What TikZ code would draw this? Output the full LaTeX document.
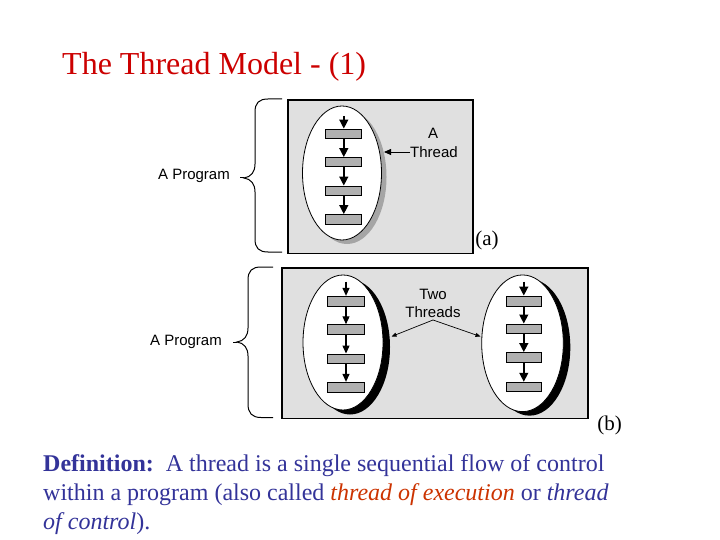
\documentclass[tikz,border=0pt]{standalone}
\usepackage{fontspec}
\setmainfont{Liberation Serif}
\newfontfamily\arialf{Liberation Sans}
\usetikzlibrary{arrows.meta,shapes.geometric}
\definecolor{titlered}{RGB}{204,0,0}
\definecolor{defblue}{RGB}{51,51,153}
\definecolor{defred}{RGB}{204,51,0}
\definecolor{boxgray}{RGB}{224,224,224}
\definecolor{rectgray}{RGB}{176,176,176}
\definecolor{shadowgray}{RGB}{165,165,165}
\begin{document}
\begin{tikzpicture}[x=1pt,y=-1pt,
  panel/.style={draw=black, line width=1.6pt, fill=boxgray, inner sep=0, anchor=north west},
  thr/.style={ellipse, draw=black, line width=0.8pt, fill=white, inner sep=0},
  shd/.style={ellipse, inner sep=0},
  stepbox/.style={draw=black, line width=0.9pt, fill=rectgray, minimum width=36pt, minimum height=9pt, inner sep=0},
  flow/.style={line width=1.4pt, -{Triangle[width=9pt,length=9pt]}},
  flowthin/.style={line width=1.2pt, -{Triangle[width=7pt,length=8pt]}},
  ptr/.style={line width=0.8pt, -{Triangle[width=6pt,length=7pt]}},
  ptrsmall/.style={line width=0.7pt, -{Triangle[width=4pt,length=5pt]}},
  lbl/.style={font=\arialf\fontsize{15}{18}\selectfont, inner sep=0},
  bracep/.style={line width=1pt},
  serif/.style={inner sep=0}]
\useasboundingbox (0,0) rectangle (720,540);
\fill[white] (0,0) rectangle (720,540);

% title
\node[serif, anchor=base west, text=titlered, font=\fontsize{32}{38}\selectfont] (title) at (62,75) {The Thread Model - (1)};

% ---------- (a) ----------
\node[panel, minimum width=185pt, minimum height=153.5pt] (pa) at (287,99) {};
\node[shd, fill=shadowgray, minimum width=79pt, minimum height=134pt] (sa) at (347,177) {};
\node[thr, minimum width=79pt, minimum height=134pt] (ea) at (342,173) {};
\node[stepbox] (a1) at (343.8,133.5) {};
\node[stepbox] (a2) at (343.8,162) {};
\node[stepbox] (a3) at (343.8,190.5) {};
\node[stepbox, minimum height=10pt] (a4) at (343.8,219.5) {};
\coordinate (a0) at (343.8,116);
\draw[flow] (a0) -- (a1.north);
\draw[flow] (a1.south) -- (a2.north);
\draw[flow] (a2.south) -- (a3.north);
\draw[flow] (a3.south) -- (a4.north);
\node[lbl] (lA) at (433,133) {A};
\node[lbl] (lThread) at (434,152) {Thread};
\coordinate (tipa) at (384,152);
\draw[ptr] (lThread.west) -- (tipa);
\node[lbl] (progA) at (194,176) {A Program};
\draw[bracep] (282,99) -- (268,99) .. controls (259,99) and (255,103) .. (255,112) -- (255,164)
  .. controls (255,172) and (251,177) .. (244,178) .. controls (251,179) and (255,184) .. (255,192)
  -- (255,239) .. controls (255,248) and (259,252) .. (268,252) -- (282,252);
\coordinate (btipa) at (244,178);
\coordinate (bdasha) at (240,178);
\draw[bracep] (btipa) -- (bdasha);
\node[serif, font=\fontsize{21}{25}\selectfont] (la) at (487,240) {(a)};

% ---------- (b) ----------
\node[panel, minimum width=306pt, minimum height=150.5pt] (pb) at (281,267) {};
% left thread
\node[shd, fill=black, minimum width=80pt, minimum height=135pt] (sb1) at (350,347) {};
\node[thr, minimum width=80pt, minimum height=135pt] (eb1) at (343,342.5) {};
\node[stepbox, minimum width=36.6pt, minimum height=10pt] (b1) at (346,301.3) {};
\node[stepbox, minimum width=36.6pt, minimum height=10pt] (b2) at (346,329.7) {};
\node[stepbox, minimum width=36.6pt, minimum height=9pt] (b3) at (346,358.5) {};
\node[stepbox, minimum width=36.6pt, minimum height=10pt] (b4) at (346,387.3) {};
\coordinate (b0) at (346,281.5);
\draw[flowthin] (b0) -- (b1.north);
\draw[flowthin] (b1.south) -- (b2.north);
\draw[flowthin] (b2.south) -- (b3.north);
\draw[flowthin] (b3.south) -- (b4.north);
% right thread
\node[shd, fill=black, minimum width=81.6pt, minimum height=136.7pt] (sb2) at (529.5,347.3) {};
\node[thr, minimum width=81.6pt, minimum height=136.7pt] (eb2) at (522.5,343.3) {};
\node[stepbox, minimum width=35.7pt, minimum height=10pt] (c1) at (523.8,301) {};
\node[stepbox, minimum width=35.7pt, minimum height=9.5pt] (c2) at (523.8,328.7) {};
\node[stepbox, minimum width=35.7pt, minimum height=10pt] (c3) at (523.8,357.5) {};
\node[stepbox, minimum width=35.7pt, minimum height=9pt] (c4) at (523.8,386.7) {};
\coordinate (c0) at (523.8,281.5);
\draw[flow] (c0) -- (c1.north);
\draw[flow] (c1.south) -- (c2.north);
\draw[flow] (c2.south) -- (c3.north);
\draw[flow] (c3.south) -- (c4.north);
% labels
\node[lbl] (lTwo) at (433,294) {Two};
\node[lbl] (lThreads) at (433,312) {Threads};
\coordinate (apex) at (433,320);
\coordinate (lend) at (391.5,336.5);
\coordinate (rend) at (480.5,336.5);
\draw[ptrsmall] (apex) -- (lend);
\draw[ptrsmall] (apex) -- (rend);
\node[lbl] (progB) at (186,342) {A Program};
\draw[bracep] (273,267) -- (261,267) .. controls (252,267) and (248,271) .. (248,280) -- (248,328)
  .. controls (248,336) and (244,341) .. (237,342) .. controls (244,343) and (248,348) .. (248,356)
  -- (248,404) .. controls (248,413) and (252,417.5) .. (261,417.5) -- (273,417.5);
\coordinate (btipb) at (237,342);
\coordinate (bdashb) at (233,342);
\draw[bracep] (btipb) -- (bdashb);
\node[serif, font=\fontsize{21}{25}\selectfont] (lb) at (609.5,425) {(b)};

% ---------- definition ----------
\begin{scope}[every node/.style={serif, anchor=base west, text=defblue, font=\fontsize{24}{29}\selectfont}]
\node (d1) at (43,471) {\textbf{Definition:}\ \ A thread is a single sequential flow of control};
\node (d2) at (43,500) {within a program (also called \textcolor{defred}{\textit{thread of execution}} or \textit{thread}};
\node (d3) at (43,529) {\textit{of control}).};
\end{scope}
\end{tikzpicture}
\end{document}
